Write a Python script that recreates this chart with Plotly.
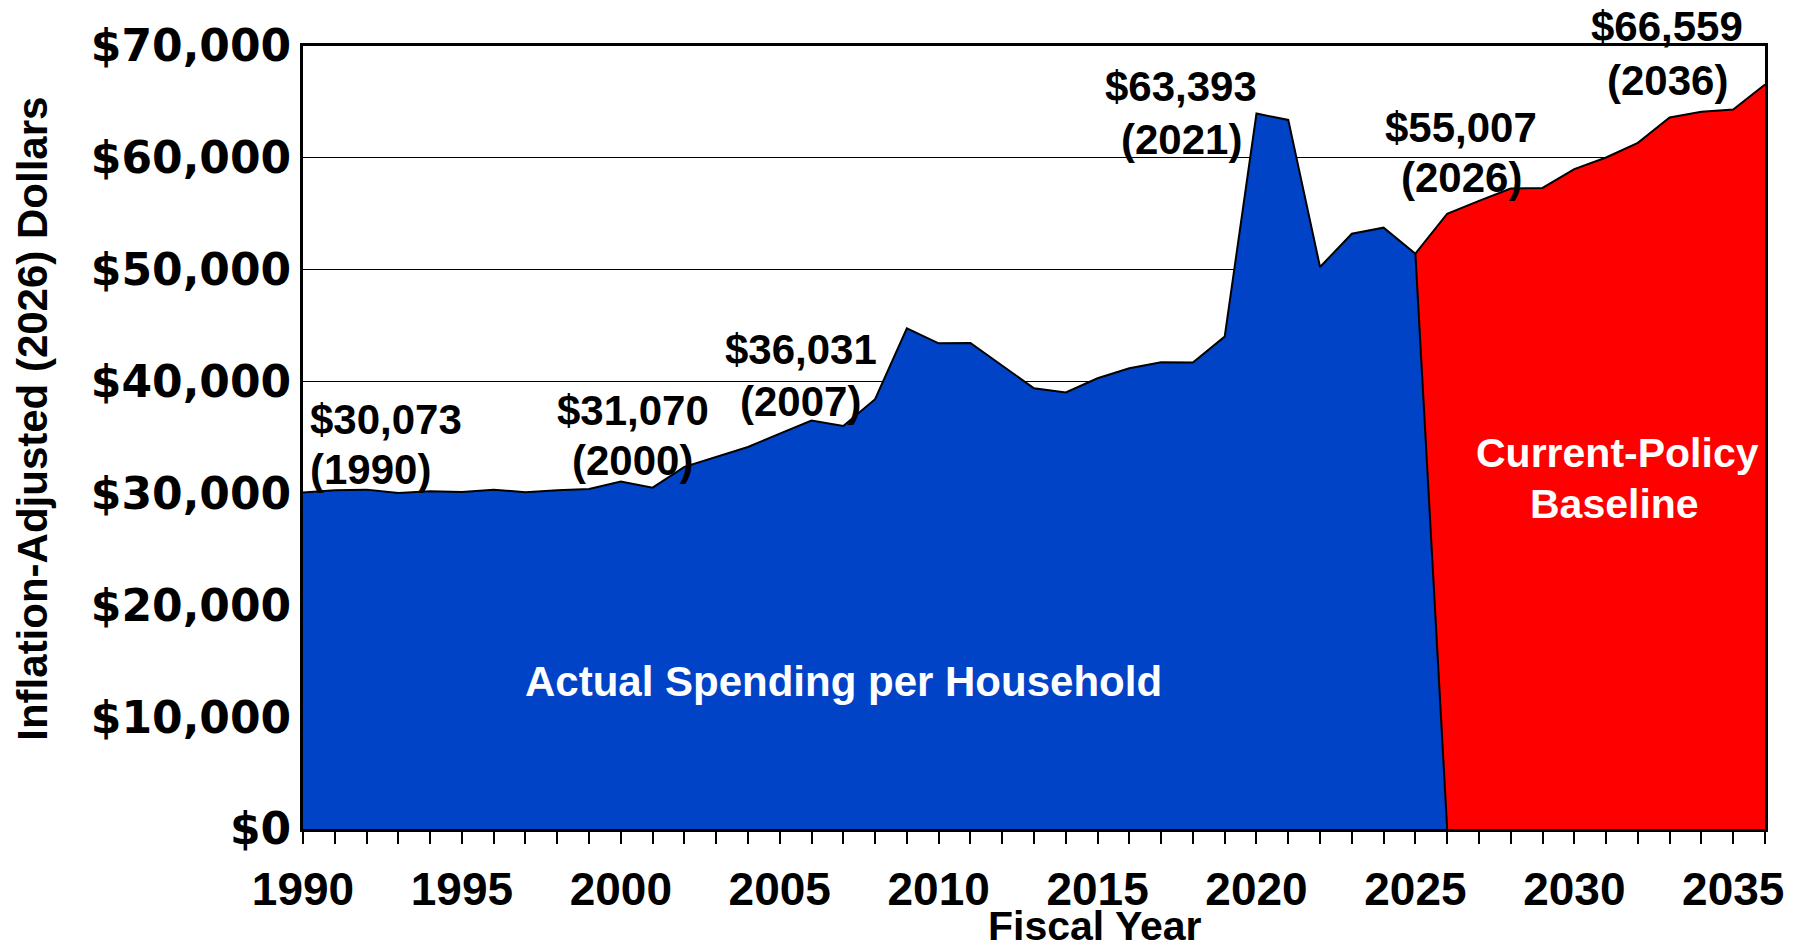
import plotly.graph_objects as go

# ---------------- data ----------------
actual_years = list(range(1990, 2027))
actual_values = [30073, 30280, 30340, 30040, 30190, 30130, 30340, 30100, 30280, 30400,
                 31070, 30520, 32370, 33260, 34150, 35350, 36520, 36031, 38420, 44760,
                 43420, 43450, 41400, 39400, 39020, 40300, 41190, 41730, 41700, 44020,
                 63960, 63393, 50240, 53220, 53760, 51430, 0]

baseline_years = list(range(2025, 2037))
baseline_values = [51430, 55007, 56150, 57250, 57310, 58990, 60030, 61340, 63610, 64120,
                   64330, 66559]

y_tick_vals = [0, 10000, 20000, 30000, 40000, 50000, 60000, 70000]
y_tick_text = ["$0", "$10,000", "$20,000", "$30,000", "$40,000", "$50,000", "$60,000", "$70,000"]
x_tick_vals = [1990, 1995, 2000, 2005, 2010, 2015, 2020, 2025, 2030, 2035]
x_tick_text = [str(v) for v in x_tick_vals]

# callouts: (value text, year text, x year, y value line, y year line, anchor)
callouts = [
    ("$30,073", "(1990)", 1990.15, 36650, 32150, "left"),
    ("$31,070", "(2000)", 2000.38, 37450, 32900, "center"),
    ("$36,031", "(2007)", 2005.66, 42900, 38200, "center"),
    ("$63,393", "(2021)", 2017.63, 66350, 61600, "center"),
    ("$55,007", "(2026)", 2026.44, 62750, 58200, "center"),
    ("$66,559", "(2036)", 2032.93, 71700, 66950, "center"),
]

BLUE = "#0043C7"
RED = "#FF0000"
FONT = "Liberation Sans, Arial, sans-serif"
YFONT = "DejaVu Sans, Liberation Sans, sans-serif"

plot_left, plot_right, plot_top, plot_bottom = 303, 1765, 46, 829
Y_MAX = 70000

fig = go.Figure()
fig.add_trace(go.Scatter(
    x=baseline_years, y=baseline_values, mode="lines", fill="tozeroy",
    fillcolor=RED, line=dict(color="black", width=2), hoverinfo="skip",
    showlegend=False))
fig.add_trace(go.Scatter(
    x=actual_years, y=actual_values, mode="lines", fill="tozeroy",
    fillcolor=BLUE, line=dict(color="black", width=2), hoverinfo="skip",
    showlegend=False))

annotations = []
for vtxt, ytxt, xx, yv, yy, anch in callouts:
    for txt, yp in ((vtxt, yv), (ytxt, yy)):
        ann = dict(
            x=xx, xref="x", text=txt, showarrow=False,
            xanchor=anch, yanchor="middle",
            font=dict(family=FONT, size=42, color="black", weight="bold"))
        if yp > Y_MAX:
            ann.update(yref="paper", y=yp / Y_MAX)
        else:
            ann.update(yref="y", y=yp)
        annotations.append(ann)

annotations.append(dict(
    x=2007.0, y=13200, xref="x", yref="y", text="Actual Spending per Household",
    showarrow=False, xanchor="center", yanchor="middle",
    font=dict(family=FONT, size=42, color="white", weight="bold")))
annotations.append(dict(
    x=2031.36, y=33600, xref="x", yref="y", text="Current-Policy",
    showarrow=False, xanchor="center", yanchor="middle",
    font=dict(family=FONT, size=41, color="white", weight="bold")))
annotations.append(dict(
    x=2031.25, y=29050, xref="x", yref="y", text="Baseline",
    showarrow=False, xanchor="center", yanchor="middle",
    font=dict(family=FONT, size=41, color="white", weight="bold")))

# axis titles
annotations.append(dict(
    x=(33 - plot_left) / (plot_right - plot_left), y=0.524, xref="paper", yref="paper",
    text="Inflation-Adjusted (2026) Dollars",
    showarrow=False, textangle=-90, xanchor="center", yanchor="middle",
    font=dict(family=FONT, size=42, color="black", weight="bold")))
annotations.append(dict(
    x=0.5417, y=-0.124, xref="paper", yref="paper", text="Fiscal Year",
    showarrow=False, xanchor="center", yanchor="middle",
    font=dict(family=FONT, size=41, color="black", weight="bold")))

fig.update_layout(
    width=1796, height=946,
    margin=dict(l=plot_left, r=1796 - plot_right, t=plot_top, b=946 - plot_bottom),
    paper_bgcolor="white", plot_bgcolor="white",
    annotations=annotations,
    xaxis=dict(
        range=[1990, 2036], tickvals=x_tick_vals, ticktext=x_tick_text,
        ticks="outside", ticklen=12, tickwidth=2, tickcolor="black",
        minor=dict(dtick=1, tick0=1990, ticks="outside", ticklen=12, tickwidth=2,
                   tickcolor="black", showgrid=False),
        showline=True, linewidth=3, linecolor="black", mirror=True,
        showgrid=False, zeroline=False,
        tickfont=dict(family=FONT, size=46, color="black", weight="bold"),
        ticklabelstandoff=6,
    ),
    yaxis=dict(
        range=[0, Y_MAX], tickvals=y_tick_vals, ticktext=y_tick_text,
        ticks="", showline=True, linewidth=3, linecolor="black", mirror=True,
        showgrid=True, gridcolor="black", gridwidth=1.3, zeroline=False,
        tickfont=dict(family=YFONT, size=44, color="black", weight="bold"),
        ticklabelstandoff=0,
    ),
)

fig.write_html("out.html")
